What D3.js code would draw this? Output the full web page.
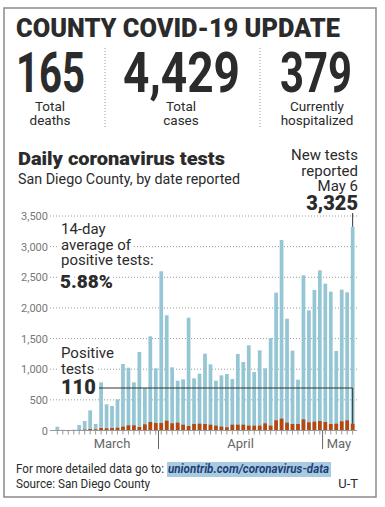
<!DOCTYPE html>
<html>
<head>
<meta charset="utf-8">
<script src="https://cdn.jsdelivr.net/npm/d3@7"></script>
<style>
  body { margin: 0; background: #fff; }
  svg { display: block; font-family: Roboto, "Liberation Sans", sans-serif; }
</style>
</head>
<body>
<div id="chart"></div>
<script>
// daily data, Mar 13 - May 6
var dates = ["3/13","3/14","3/15","3/16","3/17","3/18","3/19","3/20","3/21","3/22",
  "3/23","3/24","3/25","3/26","3/27","3/28","3/29","3/30","3/31",
  "4/1","4/2","4/3","4/4","4/5","4/6","4/7","4/8","4/9","4/10",
  "4/11","4/12","4/13","4/14","4/15","4/16","4/17","4/18","4/19","4/20",
  "4/21","4/22","4/23","4/24","4/25","4/26","4/27","4/28","4/29","4/30",
  "5/1","5/2","5/3","5/4","5/5","5/6"];
var tests = [62, 12, 10, 14, 90, 155, 329, 106, 786, 427,
  400, 509, 1085, 1025, 786, 1281, 694, 1537, 1015,
  2598, 1880, 1031, 813, 835, 1841, 851, 927, 1254, 1080,
  813, 900, 922, 840, 1249, 1118, 1390, 955, 1308, 1015,
  1510, 2249, 3109, 1825, 1303, 830, 2532, 1961, 2293, 2614,
  2396, 2266, 1298, 2298, 2255, 3325];
var positives = [2, 1, 2, 3, 10, 15, 25, 20, 40, 35,
  40, 45, 63, 84, 84, 57, 100, 139, 122,
  122, 160, 117, 128, 95, 73, 106, 111, 106, 95,
  79, 63, 52, 95, 95, 95, 79, 79, 79, 117,
  79, 166, 193, 128, 106, 106, 182, 133, 144, 155,
  139, 106, 111, 150, 166, 110];
var yTicks = [0, 500, 1000, 1500, 2000, 2500, 3000, 3500];
var months = [{name: "March", first: "3/13", last: "3/31"},
  {name: "April", first: "4/1", last: "4/30"},
  {name: "May", first: "5/1", last: "5/6"}];
var headline = [
  {value: "165", label: ["Total", "deaths"]},
  {value: "4,429", label: ["Total", "cases"]},
  {value: "379", label: ["Currently", "hospitalized"]}
];

var width = 385, height = 507;
var ink = "#2b2b2b";

var svg = d3.select("#chart").append("svg")
  .attr("width", width)
  .attr("height", height);

// outer frame
svg.append("rect")
  .attr("x", 4).attr("y", 8)
  .attr("width", 372).attr("height", 489)
  .attr("fill", "none")
  .attr("stroke", "#8a8a8a")
  .attr("stroke-width", 1.5);

svg.append("text")
  .attr("x", 16).attr("y", 37)
  .attr("font-size", 26).attr("font-weight", 900)
  .attr("fill", ink)
  .attr("textLength", 324).attr("lengthAdjust", "spacingAndGlyphs")
  .text("COUNTY COVID-19 UPDATE");

// headline numbers
var numPos = [{x: 16, w: 69, c: 50}, {x: 123, w: 117, c: 181}, {x: 280, w: 72, c: 317}];
var heads = svg.append("g").selectAll("g")
  .data(headline)
  .enter().append("g");
heads.append("text")
  .attr("x", (d, i) => numPos[i].x).attr("y", 92)
  .attr("font-size", 56).attr("font-weight", 700)
  .attr("fill", ink)
  .attr("textLength", (d, i) => numPos[i].w).attr("lengthAdjust", "spacingAndGlyphs")
  .text(d => d.value);
heads.each(function(d, i) {
  d3.select(this).selectAll("text.lab")
    .data(d.label)
    .enter().append("text")
    .attr("class", "lab")
    .attr("x", numPos[i].c)
    .attr("y", (t, j) => 111 + j * 14)
    .attr("text-anchor", "middle")
    .attr("font-size", 13.5)
    .attr("fill", ink)
    .text(t => t);
});
[105, 260].forEach(function(x) {
  svg.append("line")
    .attr("x1", x).attr("x2", x).attr("y1", 48).attr("y2", 128)
    .attr("stroke", "#999").attr("stroke-dasharray", "1,2");
});

// chart titles
svg.append("text")
  .attr("x", 18).attr("y", 165)
  .attr("font-size", 18.5).attr("font-weight", 900)
  .attr("fill", ink)
  .attr("textLength", 207).attr("lengthAdjust", "spacingAndGlyphs")
  .text("Daily coronavirus tests");
svg.append("text")
  .attr("x", 18).attr("y", 184)
  .attr("font-size", 14.5)
  .attr("fill", ink)
  .attr("textLength", 222).attr("lengthAdjust", "spacingAndGlyphs")
  .text("San Diego County, by date reported");

// scales
var x = d3.scaleBand()
  .domain(dates)
  .range([54.6, 355.4])
  .paddingInner(0.32)
  .paddingOuter(0.16);
var y = d3.scaleLinear()
  .domain([0, 3500])
  .range([430.5, 216]);

// grid + y labels
var grid = svg.append("g");
grid.selectAll("line")
  .data(yTicks.filter(d => d > 0))
  .enter().append("line")
  .attr("x1", 50).attr("x2", 357)
  .attr("y1", d => y(d)).attr("y2", d => y(d))
  .attr("stroke", "#9a9a9a")
  .attr("stroke-dasharray", "1,2");
grid.selectAll("text")
  .data(yTicks)
  .enter().append("text")
  .attr("x", 48).attr("y", d => y(d) + 4)
  .attr("text-anchor", "end")
  .attr("font-size", 11)
  .attr("fill", "#777")
  .text(d => d3.format(",")(d));

// bars
var bars = svg.append("g");
bars.selectAll("rect.tests")
  .data(dates)
  .enter().append("rect")
  .attr("class", "tests")
  .attr("x", d => x(d))
  .attr("width", x.bandwidth())
  .attr("y", (d, i) => y(tests[i]))
  .attr("height", (d, i) => y(0) - y(tests[i]))
  .attr("fill", "#94c6d4");
bars.selectAll("rect.pos")
  .data(dates)
  .enter().append("rect")
  .attr("class", "pos")
  .attr("x", d => x(d))
  .attr("width", x.bandwidth())
  .attr("y", (d, i) => y(positives[i]))
  .attr("height", (d, i) => y(0) - y(positives[i]))
  .attr("fill", "#b6470f");

// x axis
svg.append("line")
  .attr("x1", 50).attr("x2", 357)
  .attr("y1", y(0)).attr("y2", y(0))
  .attr("stroke", "#999");
svg.append("g").selectAll("line")
  .data(dates)
  .enter().append("line")
  .attr("x1", d => x(d) + x.bandwidth() / 2)
  .attr("x2", d => x(d) + x.bandwidth() / 2)
  .attr("y1", y(0)).attr("y2", y(0) + 4)
  .attr("stroke", "#999");
var step = x.step();
[months[1], months[2]].forEach(function(m) {
  var sx = x(m.first) - (step - x.bandwidth()) / 2;
  svg.append("line")
    .attr("x1", sx).attr("x2", sx)
    .attr("y1", y(0)).attr("y2", 449)
    .attr("stroke", "#666");
});
svg.append("g").selectAll("text")
  .data(months)
  .enter().append("text")
  .attr("x", d => d.name === "March" ? 112 : (x(d.first) + x(d.last) + x.bandwidth()) / 2)
  .attr("y", 448)
  .attr("text-anchor", "middle")
  .attr("font-size", 13)
  .attr("fill", "#666")
  .text(d => d.name);

// annotations
function halo(sel) {
  return sel.attr("stroke", "#fff").attr("stroke-width", 6)
    .attr("paint-order", "stroke").attr("stroke-linejoin", "round");
}
var avg = svg.append("g");
["14-day", "average of", "positive tests:"].forEach(function(t, i) {
  halo(avg.append("text")
    .attr("x", 61).attr("y", 234 + i * 15.5)
    .attr("font-size", 15).attr("fill", ink)
    .text(t));
});
halo(avg.append("text")
  .attr("x", 60).attr("y", 288)
  .attr("font-size", 19).attr("font-weight", 900).attr("fill", ink)
  .text("5.88%"));

var lastDate = dates[dates.length - 1];
var lastX = x(lastDate) + x.bandwidth() / 2;
var posG = svg.append("g");
["Positive", "tests"].forEach(function(t, i) {
  halo(posG.append("text")
    .attr("x", 61).attr("y", 358 + i * 16)
    .attr("font-size", 15).attr("fill", ink)
    .text(t));
});
posG.append("text")
  .attr("x", 61).attr("y", 394)
  .attr("font-size", 20).attr("font-weight", 900).attr("fill", ink)
  .text(d3.format(",")(positives[positives.length - 1]));
posG.append("path")
  .attr("d", "M99,388H" + lastX + "V" + y(positives[positives.length - 1]))
  .attr("fill", "none")
  .attr("stroke", "#333")
  .attr("stroke-width", 1);

var newG = svg.append("g");
["New tests", "reported", "May 6"].forEach(function(t, i) {
  newG.append("text")
    .attr("x", 358).attr("y", 160 + i * 15.5)
    .attr("text-anchor", "end")
    .attr("font-size", 15).attr("fill", ink)
    .text(t);
});
newG.append("text")
  .attr("x", 358).attr("y", 210)
  .attr("text-anchor", "end")
  .attr("font-size", 20).attr("font-weight", 900).attr("fill", ink)
  .text(d3.format(",")(tests[tests.length - 1]));
newG.append("line")
  .attr("x1", lastX).attr("x2", lastX)
  .attr("y1", 213).attr("y2", y(tests[tests.length - 1]))
  .attr("stroke", "#333");

// footer
var foot = svg.append("g");
foot.append("rect")
  .attr("x", 167).attr("y", 462)
  .attr("width", 164).attr("height", 15)
  .attr("fill", "#a9cbe0");
foot.append("text")
  .attr("x", 16).attr("y", 473)
  .attr("font-size", 13).attr("fill", ink)
  .attr("textLength", 148).attr("lengthAdjust", "spacingAndGlyphs")
  .text("For more detailed data go to:");
foot.append("text")
  .attr("x", 168).attr("y", 473)
  .attr("font-size", 13)
  .attr("font-style", "italic").attr("font-weight", 700)
  .attr("fill", "#1e3f78")
  .attr("textLength", 161).attr("lengthAdjust", "spacingAndGlyphs")
  .text("uniontrib.com/coronavirus-data");
foot.append("text")
  .attr("x", 16).attr("y", 488)
  .attr("font-size", 13).attr("fill", ink)
  .attr("textLength", 134).attr("lengthAdjust", "spacingAndGlyphs")
  .text("Source: San Diego County");
foot.append("text")
  .attr("x", 358).attr("y", 488)
  .attr("text-anchor", "end")
  .attr("font-size", 13).attr("fill", ink)
  .text("U-T");
</script>
</body>
</html>
